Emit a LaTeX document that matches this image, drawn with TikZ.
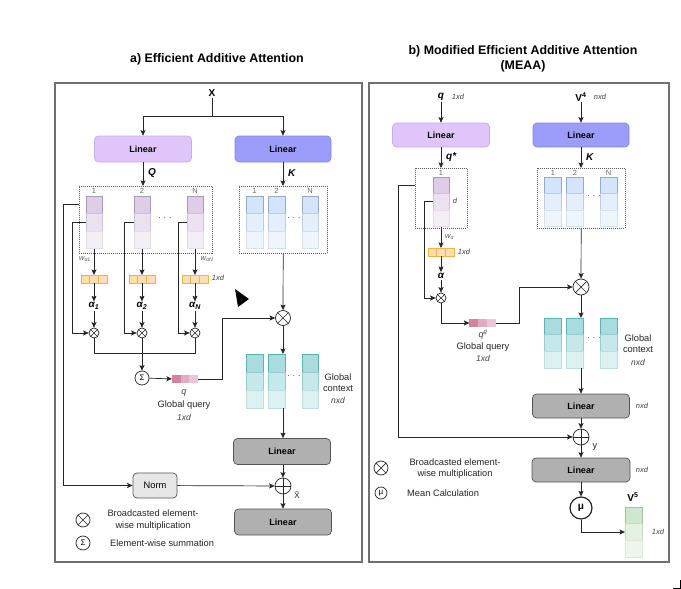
\documentclass[tikz,border=0pt]{standalone}
\usepackage{fontspec}
\setmainfont{Liberation Sans}
\usetikzlibrary{arrows.meta,calc}
\definecolor{linqf}{HTML}{E0C5FA}\definecolor{linqd}{HTML}{C9AAEE}
\definecolor{linkf}{HTML}{9C9CFA}\definecolor{linkd}{HTML}{8585EE}
\definecolor{qf}{HTML}{DDCDE6}\definecolor{qd}{HTML}{9673A6}
\definecolor{kf}{HTML}{D4E4FA}\definecolor{kd}{HTML}{6C8EBF}
\definecolor{tf}{HTML}{A8DCDF}\definecolor{td}{HTML}{3FA3A8}
\definecolor{gf}{HTML}{D0E6CF}\definecolor{gd}{HTML}{82B366}
\definecolor{of}{HTML}{FFDDB5}\definecolor{od}{HTML}{F0B43C}
\definecolor{pa}{HTML}{D4829F}\definecolor{pb}{HTML}{E2AAC3}\definecolor{pc}{HTML}{ECC6D7}
\definecolor{grayf}{HTML}{B0B0B0}\definecolor{grayd}{HTML}{555555}
\definecolor{normf}{HTML}{E6E6E6}\definecolor{panelc}{HTML}{707070}
\newcommand\cellcolumn[6]{% name, x, ytop, style prefix, height, width
  \node[cellbase,#4a,minimum height=#5pt,minimum width=#6pt,anchor=north] (#1-1) at (#2,#3) {};
  \node[cellbase,#4b,minimum height=#5pt,minimum width=#6pt,anchor=north] (#1-2) at (#1-1.south) {};
  \node[cellbase,#4c,minimum height=#5pt,minimum width=#6pt,anchor=north] (#1-3) at (#1-2.south) {};
}
\newcommand\hvector[6]{% name, x, y, style1, style2, style3
  \node[hcell,#5] (#1-2) at (#2,#3) {};
  \node[hcell,#4,anchor=east] (#1-1) at (#1-2.west) {};
  \node[hcell,#6,anchor=west] (#1-3) at (#1-2.east) {};
}
\begin{document}
\begin{tikzpicture}[x=1pt,y=-1pt,
  cellbase/.style={inner sep=0,outer sep=0,line width=0.8pt},
  qa/.style={fill=qf,draw=qd!75},
  qb/.style={fill=qf!60,draw=qd!45},
  qc/.style={fill=qf!35,draw=qd!25},
  ka/.style={fill=kf,draw=kd!75},
  kb/.style={fill=kf!60,draw=kd!45},
  kc/.style={fill=kf!38,draw=kd!28},
  ta/.style={fill=tf,draw=td!85},
  tb/.style={fill=tf!65,draw=td!55},
  tc/.style={fill=tf!40,draw=td!35},
  ga/.style={fill=gf,draw=gd!75},
  gb/.style={fill=gf!60,draw=gd!45},
  gc/.style={fill=gf!38,draw=gd!28},
  hcell/.style={inner sep=0,outer sep=0,minimum width=8.7pt,minimum height=8pt,line width=0.8pt},
  oc/.style={fill=of,draw=od},
  pq1/.style={fill=pa},pq2/.style={fill=pb},pq3/.style={fill=pc},
  linbox/.style={rounded corners=4pt,inner sep=0,font=\fontsize{9}{10}\selectfont\bfseries,line width=0.7pt},
  linq/.style={linbox,fill=linqf,draw=linqd,minimum width=97pt,minimum height=26pt},
  link/.style={linbox,fill=linkf,draw=linkd,minimum width=96pt,minimum height=26pt},
  glin/.style={linbox,fill=grayf,draw=grayd,minimum width=97pt,minimum height=26pt},
  normbox/.style={linbox,font=\fontsize{9.3}{10}\selectfont,fill=normf,draw=grayd,minimum width=44pt,minimum height=25pt},
  dotbox/.style={draw=black!65,dash pattern=on 1pt off 1pt,line width=0.6pt,inner sep=0},
  txt/.style={inner sep=1pt,font=\fontsize{9.3}{11}\selectfont,text=black!85},
  smallit/.style={inner sep=1pt,font=\fontsize{7.5}{9}\selectfont\itshape,text=black!75},
  idx/.style={inner sep=0.5pt,font=\fontsize{7.5}{8}\selectfont,text=black!60},
  bi/.style={inner sep=1pt,font=\fontsize{10}{12}\selectfont\bfseries\itshape},
  bl/.style={inner sep=1pt,font=\fontsize{10}{12}\selectfont\bfseries},
  titl/.style={inner sep=1pt,font=\fontsize{12.4}{14.5}\selectfont\bfseries,align=center},
  ln/.style={line width=0.7pt,draw=black!85},
  arr/.style={ln,-{Stealth[length=5.5pt,width=5pt,inset=1pt]}},
  otimes/.style={circle,draw=black!85,fill=white,inner sep=0,line width=0.7pt,
    path picture={\draw[line width=0.7pt,black!85] (path picture bounding box.north west) -- (path picture bounding box.south east) (path picture bounding box.north east) -- (path picture bounding box.south west);}},
  oplus/.style={circle,draw=black!85,fill=white,inner sep=0,line width=0.7pt,
    path picture={\draw[line width=0.7pt,black!85] (path picture bounding box.north) -- (path picture bounding box.south) (path picture bounding box.east) -- (path picture bounding box.west);}},
  sym/.style={circle,draw=black!85,fill=white,inner sep=0,line width=0.7pt,font=\fontsize{8}{8}\selectfont},
  dots/.style={inner sep=0,font=\fontsize{9}{9}\selectfont,text=black!70}
]
\useasboundingbox (0,0) rectangle (681,589);
\fill[white] (0,0) rectangle (681,589);
% panels
\draw[panelc,line width=1.3pt] (55,83) rectangle (362,562);
\draw[panelc,line width=1.3pt] (369,83) rectangle (669,562);
\node[titl] (tA) at (217,59) {a) Efficient Additive Attention};
\node[titl] (tB) at (523,59) {b) Modified Efficient Additive Attention\\(MEAA)};

% ===================== left panel =====================
\node[bl] (X) at (212,93) {X};
\coordinate (xsplit) at (212,116);
\node[linq] (LQ) at (143,149) {Linear};
\node[link] (LK) at (283,149) {Linear};
\draw[ln] (X) -- (xsplit);
\draw[arr] (xsplit) -| (LQ);
\draw[arr] (xsplit) -| (LK);

\node[dotbox,minimum width=133pt,minimum height=67pt,anchor=north west] (QB) at (79,186) {};
\node[dotbox,minimum width=88pt,minimum height=67pt,anchor=north west] (KB) at (239,186) {};
\draw[arr] (LQ) -- (LQ |- QB.north);
\draw[arr] (LK) -- (LK |- KB.north);
\node[bi,anchor=west] (Qlab) at (147,173) {Q};
\node[bi,anchor=west] (Klab) at (287,173) {K};

\node[idx] (qi1) at (94,191) {1};
\node[idx] (qi2) at (142,191) {2};
\node[idx] (qi3) at (195,191) {N};
\node[idx] (ki1) at (254.5,191) {1};
\node[idx] (ki2) at (276.5,191) {2};
\node[idx] (ki3) at (310,191) {N};
\node[dots] (qdots) at (165,219) {· · ·};
\node[dots] (kdots) at (294,219) {· · ·};
\cellcolumn{Q1}{94}{196}{q}{17.5}{16}
\cellcolumn{Q2}{142}{196}{q}{17.5}{16}
\cellcolumn{Q3}{195}{196}{q}{17.5}{16}
\cellcolumn{K1}{254.5}{196}{k}{17.5}{17}
\cellcolumn{K2}{276.5}{196}{k}{17.5}{17}
\cellcolumn{K3}{310}{196}{k}{17.5}{16}

\node[smallit,text=black!65] (w1) at (85,259) {w\textsubscript{α1}};
\node[smallit,text=black!65] (wN) at (207,259) {w\textsubscript{αN}};
\hvector{QO1}{94}{279}{oc}{oc}{oc}
\hvector{QO2}{142}{279}{oc}{oc}{oc}
\hvector{QO3}{195}{279}{oc}{oc}{oc}
\node[smallit] (oxd) at (218,278) {1xd};
\draw[arr] (Q1-3) -- (QO1-2);
\draw[arr] (Q2-3) -- (QO2-2);
\draw[arr] (Q3-3) -- (QO3-2);

\node[bi] (al1) at (94,306) {α\textsubscript{1}};
\node[bi] (al2) at (142,306) {α\textsubscript{2}};
\node[bi] (al3) at (195,306) {α\textsubscript{N}};
\draw[arr] (QO1-2) -- (al1);
\draw[arr] (QO2-2) -- (al2);
\draw[arr] (QO3-2) -- (al3);

\node[otimes,minimum size=10pt] (m1) at (94,333) {};
\node[otimes,minimum size=10pt] (m2) at (142,333) {};
\node[otimes,minimum size=10pt] (m3) at (195,333) {};
\draw[arr] (al1) -- (m1);
\draw[arr] (al2) -- (m2);
\draw[arr] (al3) -- (m3);
\draw[arr] (Q1-2.west) -- ++(-14,0) |- (m1);
\draw[arr] (Q2-2.west) -- ++(-10,0) |- (m2);
\draw[arr] (Q3-2.west) -- ++(-9,0) |- (m3);

\coordinate (bar) at (195,353);
\node[sym,minimum size=14pt] (S) at (142,378) {Σ};
\draw[ln] (m1) |- (bar) -- (m3);
\draw[arr] (m2) -- (S);
\hvector{qv}{185}{379}{pq1}{pq2}{pq3}
\draw[arr] (S) -- (qv-1);
\node[smallit,font=\fontsize{9}{10}\selectfont\itshape] (qlab) at (184,393) {q};
\node[txt] (gq) at (184,405) {Global query};
\node[smallit,font=\fontsize{8.5}{10}\selectfont\itshape] (gqd) at (184,417) {1xd};

\node[otimes,minimum size=15pt] (MK) at (283,318) {};
\draw[arr] (qv-3.east) -- ++(24,0) |- (MK);
\draw[arr] (KB) -- (MK);
\fill[black] (235,289) -- (249,299) -- (238,307) -- cycle;

\node[dots] (tdots) at (294,377) {· · ·};
\cellcolumn{T1}{254.5}{354}{t}{18}{17}
\cellcolumn{T2}{276.5}{354}{t}{18}{17}
\cellcolumn{T3}{310}{354}{t}{18}{16}
\draw[arr] (MK) -- (MK |- T2-1.north);
\node[txt] (gc1) at (338,377) {Global};
\node[txt] (gc2) at (338,388.5) {context};
\node[smallit,font=\fontsize{8.5}{10}\selectfont\itshape] (gc3) at (338,400) {nxd};

\node[glin] (GL1) at (282,451.5) {Linear};
\draw[arr] (MK |- T2-3.south) -- (MK |- GL1.north);
\node[oplus,minimum size=16pt] (P1) at (283,486) {};
\draw[arr] (MK |- GL1.south) -- (P1);
\node[glin] (GL2) at (283,522) {Linear};
\draw[arr] (P1) -- (GL2);
\node[txt,font=\fontsize{8}{9}\selectfont] (xt) at (297,495) {\~{X}};
\node[normbox] (Norm) at (155,485.5) {Norm};
\draw[arr] (QB.west |- Q1-1) -- ++(-16,0) |- (Norm);
\draw[arr] (Norm) -- (P1);

\node[otimes,minimum size=14pt] (lg1) at (83,520) {};
\node[txt,align=center,font=\fontsize{9.3}{12}\selectfont] (lg1t) at (153,520) {Broadcasted element-\\wise multiplication};
\node[sym,minimum size=14pt] (lg2) at (83,543) {Σ};
\node[txt,anchor=west] (lg2t) at (109,543) {Element-wise summation};

% ===================== right panel =====================
\node[bi] (q0) at (441,97) {q};
\node[smallit,font=\fontsize{7.5}{9}\selectfont\itshape] (q0d) at (458,97) {1xd};
\node[bl] (V4) at (581,97) {V\textsuperscript{4}};
\node[smallit] (V4d) at (600,97) {nxd};
\node[linq,minimum height=24pt] (LQ2) at (441,135) {Linear};
\node[link,minimum height=24pt] (LK2) at (581,135) {Linear};
\draw[arr] (q0) -- (LQ2);
\draw[arr] (V4) -- (LK2);
\node[dotbox,minimum width=52pt,minimum height=60pt,anchor=north west] (QB2) at (415,168) {};
\node[dotbox,minimum width=88pt,minimum height=60pt,anchor=north west] (KB2) at (537,168) {};
\draw[arr] (LQ2) -- (LQ2 |- QB2.north);
\draw[arr] (LK2) -- (LK2 |- KB2.north);
\node[bi,anchor=west] (qs) at (445,157) {q*};
\node[bi,anchor=west] (K2lab) at (585,157) {K};

\node[idx] (ri1) at (441,172.5) {1};
\cellcolumn{R1}{441}{177}{q}{16.5}{16}
\node[smallit] (dlab) at (455,201) {d};
\node[idx] (rk1) at (553,172.5) {1};
\node[idx] (rk2) at (575,172.5) {2};
\node[idx] (rk3) at (608.5,172.5) {N};
\node[dots] (rkdots) at (594,197) {· · ·};
\cellcolumn{RK1}{553}{177}{k}{16.5}{17}
\cellcolumn{RK2}{575}{177}{k}{16.5}{17}
\cellcolumn{RK3}{608.5}{177}{k}{16.5}{17}

\node[smallit,text=black!65,anchor=west] (wr) at (444,237) {w\textsubscript{α}};
\hvector{RO}{441}{252}{oc}{oc}{oc}
\node[smallit] (rod) at (464,252) {1xd};
\draw[arr] (R1-3) -- (RO-2);
\node[bi] (ral) at (441,276) {α};
\draw[arr] (RO-2) -- (ral);
\node[otimes,minimum size=10pt] (RM) at (441,298) {};
\draw[arr] (ral) -- (RM);
\draw[arr] (R1-2.west) -- ++(-9,0) |- (RM);

\hvector{RQ}{482.5}{323}{pq1}{pq2}{pq3}
\draw[arr] (RM) |- (RQ-1);
\node[smallit,font=\fontsize{9}{10}\selectfont\itshape] (qg) at (483,335) {q\textsuperscript{g}};
\node[txt] (rgq) at (483,347) {Global query};
\node[smallit,font=\fontsize{8.5}{10}\selectfont\itshape] (rgqd) at (483,358) {1xd};

\node[otimes,minimum size=16pt] (RMK) at (581,287) {};
\draw[arr] (RQ-3.east) -- ++(24,0) |- (RMK);
\draw[arr] (KB2) -- (RMK);

\node[dots] (rtdots) at (594,339) {· · ·};
\cellcolumn{RT1}{553}{318}{t}{16.7}{17}
\cellcolumn{RT2}{575}{318}{t}{16.7}{17}
\cellcolumn{RT3}{608.5}{318}{t}{16.7}{17}
\draw[arr] (RMK) -- (RMK |- RT2-1.north);
\node[txt] (rgc1) at (638,338) {Global};
\node[txt] (rgc2) at (638,350) {context};
\node[smallit,font=\fontsize{8.5}{10}\selectfont\itshape] (rgc3) at (638,362) {nxd};

\node[glin,minimum height=24pt] (GL3) at (581,406) {Linear};
\draw[arr] (RMK |- RT2-3.south) -- (GL3);
\node[smallit] (gl3d) at (642,406) {nxd};
\node[oplus,minimum size=16pt] (RP) at (581,437) {};
\draw[arr] (GL3) -- (RP);
\node[txt] (ylab) at (595,447) {y};
\draw[arr] (QB2.west |- R1-1) -- ++(-17,0) |- (RP);
\node[glin,minimum width=98pt,minimum height=24pt] (GL4) at (581,470) {Linear};
\draw[arr] (RP) -- (GL4);
\node[smallit] (gl4d) at (642,470) {nxd};
\node[sym,minimum size=22pt,line width=1.2pt,font=\fontsize{10}{10}\selectfont\bfseries] (Mu) at (581,508) {μ};
\draw[arr] (GL4) -- (Mu);
\cellcolumn{V5}{633.5}{507}{g}{16.7}{17}
\node[bl] (V5lab) at (633,497) {V\textsuperscript{5}};
\draw[arr] (Mu) |- (V5-2.west);
\node[smallit] (v5d) at (658,532) {1xd};

\node[otimes,minimum size=14pt] (rlg1) at (381,468) {};
\node[txt,align=center,font=\fontsize{9.3}{11.5}\selectfont] (rlg1t) at (455,468.5) {Broadcasted element-\\wise multiplication};
\node[sym,minimum size=12pt] (rlg2) at (381,493) {μ};
\node[txt,anchor=west] (rlg2t) at (406,493) {Mean Calculation};

\draw[black,line width=0.6pt] (673,588) -- (680,588) -- (680,580);
\end{tikzpicture}
\end{document}
